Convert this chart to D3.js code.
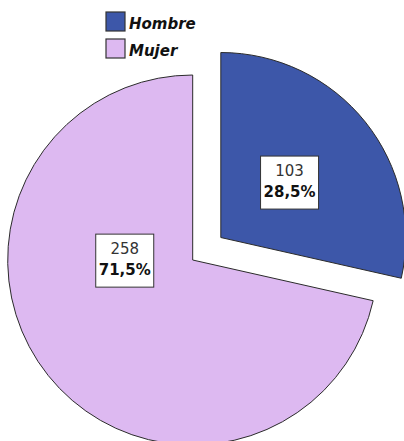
<!DOCTYPE html>
<html><head><meta charset="utf-8">
<script src="https://cdn.jsdelivr.net/npm/d3@7"></script>
<style>html,body{margin:0;padding:0;background:#fff;}svg{display:block;}</style>
</head><body>
<script>
const categories = ["Hombre", "Mujer"];
const counts = [103, 258];
const percents = ["28,5%", "71,5%"];
const colors = ["#3D57A9", "#DDB9F1"];

const W = 404, H = 441;
const svg = d3.select("body").append("svg").attr("width", W).attr("height", H);

const cx = 192.7, cy = 260, R = 185, explode = 36;
const data = categories.map((c, i) => ({cat: c, value: counts[i], pct: percents[i], color: colors[i]}));
const pie = d3.pie().sort(null).value(d => d.value).startAngle(0).endAngle(2 * Math.PI);
const arcs = pie(data);
const arc = d3.arc().innerRadius(0).outerRadius(R);
const labelArc = d3.arc().innerRadius(88).outerRadius(88);

const g = svg.append("g").attr("transform", `translate(${cx},${cy})`);
const slices = g.selectAll("g.slice").data(arcs).join("g")
  .attr("class", "slice")
  .attr("transform", (d, i) => {
    if (i !== 0) return null;
    const m = (d.startAngle + d.endAngle) / 2;
    return `translate(${explode * Math.sin(m)},${-explode * Math.cos(m)})`;
  });
slices.append("path").attr("d", arc)
  .attr("fill", d => d.data.color)
  .attr("stroke", "#2b2b2b").attr("stroke-width", 1);

// labels
const bw = 58, bh = 53;
slices.each(function(d, i) {
  let p;
  if (i === 0) p = labelArc.centroid(d);
  else { const a = -88 * Math.PI / 180; p = [68 * Math.sin(a), -68 * Math.cos(a) + 3]; }
  const lg = d3.select(this).append("g").attr("transform", `translate(${p[0]},${p[1]})`);
  lg.append("rect").attr("x", -bw / 2).attr("y", -bh / 2).attr("width", bw).attr("height", bh)
    .attr("fill", "#fff").attr("stroke", "#333").attr("stroke-width", 1);
  lg.append("text").attr("text-anchor", "middle").attr("y", -7)
    .attr("font-family", "DejaVu Sans").attr("font-size", 15).attr("fill", "#333")
    .text(d.data.value);
  lg.append("text").attr("text-anchor", "middle").attr("y", 14)
    .attr("font-family", "DejaVu Sans").attr("font-size", 15).attr("font-weight", "bold").attr("fill", "#111")
    .text(d.data.pct);
});

// legend
const leg = svg.append("g").attr("transform", "translate(106,12)");
const items = leg.selectAll("g").data(data).join("g")
  .attr("transform", (d, i) => `translate(0,${i * 27})`);
items.append("rect").attr("width", 19).attr("height", 19)
  .attr("fill", d => d.color).attr("stroke", "#333").attr("stroke-width", 1.2);
items.append("text").attr("x", 23).attr("y", 17)
  .attr("font-family", "DejaVu Sans").attr("font-size", 15)
  .attr("font-weight", "bold").attr("font-style", "italic").attr("fill", "#111")
  .text(d => d.cat);
</script>
</body></html>
